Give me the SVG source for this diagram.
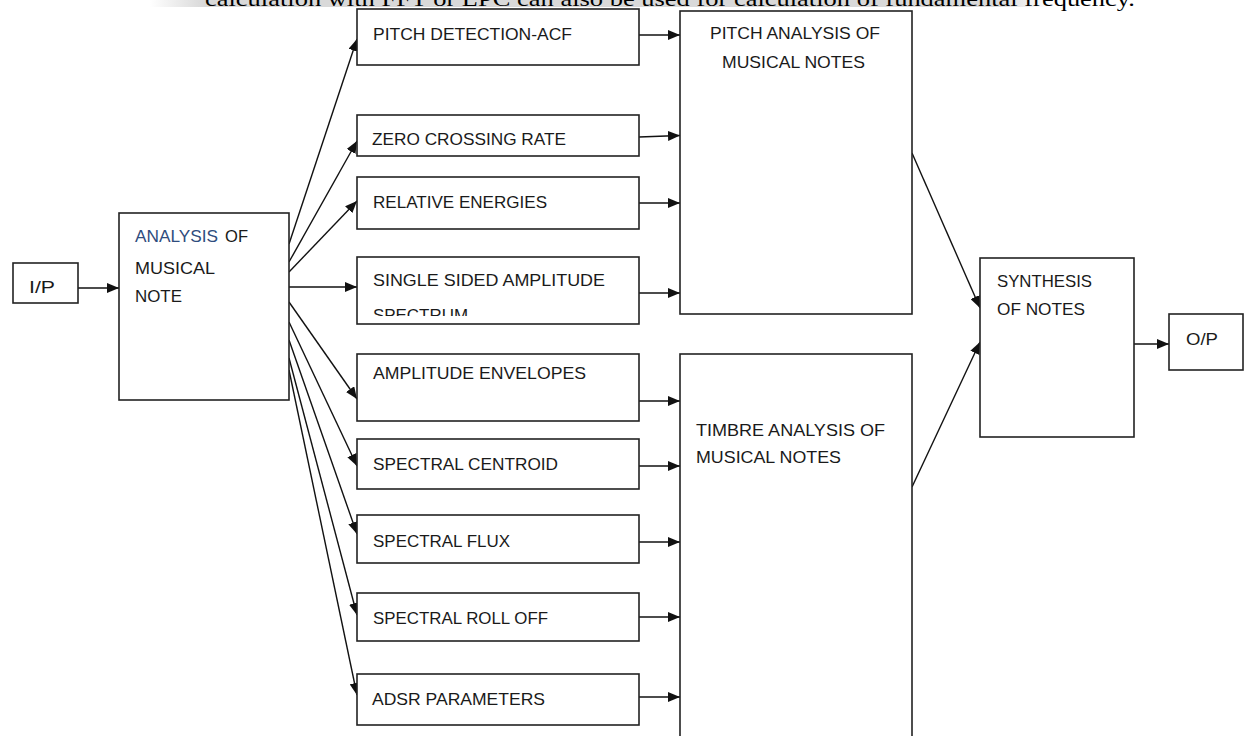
<svg xmlns="http://www.w3.org/2000/svg" width="1248" height="736" viewBox="0 0 1248 736">
  <defs>
    <marker id="ah" markerWidth="12" markerHeight="10" refX="12" refY="5" orient="auto" markerUnits="userSpaceOnUse">
      <path d="M0,0 L12,5 L0,10 z" fill="#111"/>
    </marker>
    <linearGradient id="band" x1="0" y1="0" x2="1" y2="0">
      <stop offset="0" stop-color="#d9d9d9" stop-opacity="0"/>
      <stop offset="0.06" stop-color="#d9d9d9" stop-opacity="1"/>
      <stop offset="0.94" stop-color="#d9d9d9" stop-opacity="1"/>
      <stop offset="1" stop-color="#d9d9d9" stop-opacity="0"/>
    </linearGradient>
    <clipPath id="clipSingle">
      <rect x="358" y="258" width="280" height="58"/>
    </clipPath>
    <style>
      .box { fill: #fff; stroke: #222; stroke-width: 1.6; }
      .lbl { font-family: "Liberation Sans", Arial, sans-serif; font-size: 17px; fill: #1a1a1a; }
      .blue { fill: #2f4d7e; }
      .con { stroke: #111; stroke-width: 1.4; fill: none; marker-end: url(#ah); }
      .top { font-family: "Liberation Serif", "Times New Roman", serif; font-size: 21px; fill: #000; }
    </style>
  </defs>
  <rect width="1248" height="736" fill="#fff"/>

  <!-- cut-off caption at top -->
  <g id="caption">
    <rect x="150" y="0" width="900" height="7" fill="url(#band)"/>
    <text class="top" x="205" y="6" textLength="930" lengthAdjust="spacingAndGlyphs">calculation with FFT or LPC can also be used for calculation of fundamental frequency.</text>
  </g>

  <g id="connectors">
    <line class="con" x1="78" y1="288" x2="119" y2="288"/>
    <line class="con" x1="289" y1="244" x2="357" y2="39"/>
    <line class="con" x1="289" y1="262" x2="357" y2="141"/>
    <line class="con" x1="289" y1="272" x2="357" y2="201"/>
    <line class="con" x1="289" y1="287" x2="357" y2="287"/>
    <line class="con" x1="289" y1="302" x2="357" y2="399"/>
    <line class="con" x1="289" y1="322" x2="357" y2="466"/>
    <line class="con" x1="289" y1="340" x2="357" y2="534"/>
    <line class="con" x1="289" y1="358" x2="357" y2="615"/>
    <line class="con" x1="289" y1="370" x2="357" y2="695"/>
    <line class="con" x1="639" y1="35" x2="680" y2="35"/>
    <line class="con" x1="639" y1="137" x2="680" y2="135.5"/>
    <line class="con" x1="639" y1="203" x2="680" y2="203"/>
    <line class="con" x1="639" y1="293" x2="680" y2="293"/>
    <line class="con" x1="639" y1="401" x2="680" y2="401"/>
    <line class="con" x1="639" y1="466" x2="680" y2="466"/>
    <line class="con" x1="639" y1="542" x2="680" y2="542"/>
    <line class="con" x1="639" y1="617" x2="680" y2="617"/>
    <line class="con" x1="639" y1="697" x2="680" y2="697"/>
    <line class="con" x1="912" y1="153" x2="980" y2="308"/>
    <line class="con" x1="912" y1="487" x2="980" y2="342"/>
    <line class="con" x1="1134" y1="344" x2="1169" y2="344"/>
  </g>

  <g id="ip">
    <rect class="box" x="13" y="263" width="65" height="40"/>
    <text class="lbl" x="29" y="293" textLength="26" lengthAdjust="spacingAndGlyphs">I/P</text>
  </g>

  <g id="analysis">
    <rect class="box" x="119" y="213" width="170" height="187"/>
    <text class="lbl blue" x="135" y="242" textLength="83" lengthAdjust="spacingAndGlyphs">ANALYSIS</text>
    <text class="lbl" x="225" y="242" textLength="23" lengthAdjust="spacingAndGlyphs">OF</text>
    <text class="lbl" x="135" y="274" textLength="80" lengthAdjust="spacingAndGlyphs">MUSICAL</text>
    <text class="lbl" x="135" y="302" textLength="47" lengthAdjust="spacingAndGlyphs">NOTE</text>
  </g>

  <g id="pitch-detection">
    <rect class="box" x="357" y="9" width="282" height="56"/>
    <text class="lbl" x="373" y="40" textLength="199" lengthAdjust="spacingAndGlyphs">PITCH DETECTION-ACF</text>
  </g>
  <g id="zcr">
    <rect class="box" x="357" y="115" width="282" height="41"/>
    <text class="lbl" x="372" y="145" textLength="194" lengthAdjust="spacingAndGlyphs">ZERO CROSSING RATE</text>
  </g>
  <g id="relative-energies">
    <rect class="box" x="357" y="177" width="282" height="52"/>
    <text class="lbl" x="373" y="208" textLength="174" lengthAdjust="spacingAndGlyphs">RELATIVE ENERGIES</text>
  </g>
  <g id="single-sided">
    <rect class="box" x="357" y="257" width="282" height="67"/>
    <text class="lbl" x="373" y="286" textLength="232" lengthAdjust="spacingAndGlyphs">SINGLE SIDED AMPLITUDE</text>
    <text class="lbl" x="373" y="321" textLength="95" lengthAdjust="spacingAndGlyphs" clip-path="url(#clipSingle)">SPECTRUM</text>
  </g>
  <g id="amplitude-envelopes">
    <rect class="box" x="357" y="354" width="282" height="67"/>
    <text class="lbl" x="373" y="379" textLength="213" lengthAdjust="spacingAndGlyphs">AMPLITUDE ENVELOPES</text>
  </g>
  <g id="spectral-centroid">
    <rect class="box" x="357" y="439" width="282" height="50"/>
    <text class="lbl" x="373" y="470" textLength="185" lengthAdjust="spacingAndGlyphs">SPECTRAL CENTROID</text>
  </g>
  <g id="spectral-flux">
    <rect class="box" x="357" y="515" width="282" height="48"/>
    <text class="lbl" x="373" y="547" textLength="137" lengthAdjust="spacingAndGlyphs">SPECTRAL FLUX</text>
  </g>
  <g id="spectral-rolloff">
    <rect class="box" x="357" y="593" width="282" height="48"/>
    <text class="lbl" x="373" y="624" textLength="175" lengthAdjust="spacingAndGlyphs">SPECTRAL ROLL OFF</text>
  </g>
  <g id="adsr">
    <rect class="box" x="357" y="674" width="282" height="51"/>
    <text class="lbl" x="372" y="705" textLength="173" lengthAdjust="spacingAndGlyphs">ADSR PARAMETERS</text>
  </g>

  <g id="pitch-analysis">
    <rect class="box" x="680" y="11" width="232" height="303"/>
    <text class="lbl" x="710" y="39" textLength="170" lengthAdjust="spacingAndGlyphs">PITCH ANALYSIS OF</text>
    <text class="lbl" x="722" y="68" textLength="143" lengthAdjust="spacingAndGlyphs">MUSICAL NOTES</text>
  </g>

  <g id="timbre-analysis">
    <rect class="box" x="680" y="354" width="232" height="400"/>
    <text class="lbl" x="696" y="436" textLength="189" lengthAdjust="spacingAndGlyphs">TIMBRE ANALYSIS OF</text>
    <text class="lbl" x="696" y="463" textLength="145" lengthAdjust="spacingAndGlyphs">MUSICAL NOTES</text>
  </g>

  <g id="synthesis">
    <rect class="box" x="980" y="258" width="154" height="179"/>
    <text class="lbl" x="997" y="287" textLength="95" lengthAdjust="spacingAndGlyphs">SYNTHESIS</text>
    <text class="lbl" x="997" y="315" textLength="88" lengthAdjust="spacingAndGlyphs">OF NOTES</text>
  </g>

  <g id="op">
    <rect class="box" x="1169" y="314" width="74" height="56"/>
    <text class="lbl" x="1186" y="345" textLength="32" lengthAdjust="spacingAndGlyphs">O/P</text>
  </g>
</svg>
